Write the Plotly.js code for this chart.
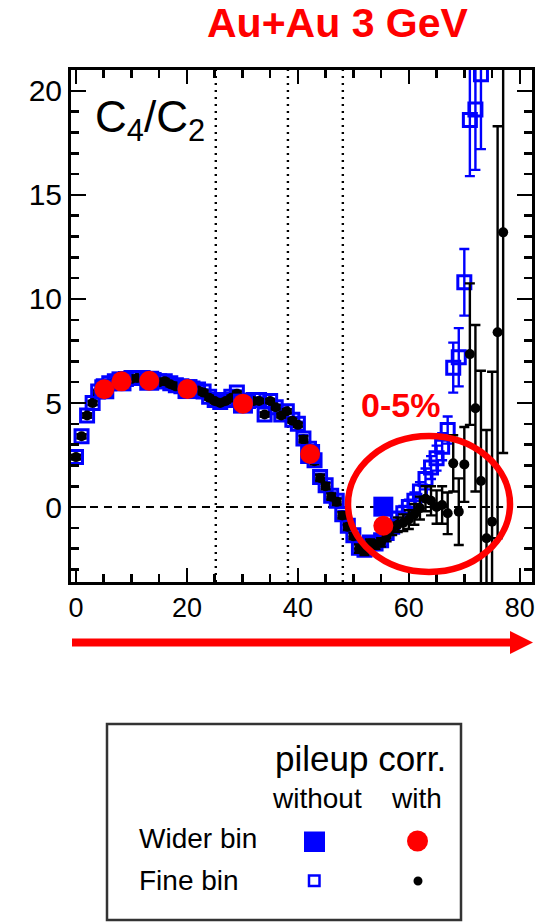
<!DOCTYPE html>
<html>
<head>
<meta charset="utf-8">
<script src="https://cdn.plot.ly/plotly-3.0.1.min.js"></script>
<style>html,body{margin:0;padding:0;background:#fff;}#chart{width:546px;height:922px;}</style>
</head>
<body>
<div id="chart"></div>
<script>
// ---- data ----
const fineX = [0,1,2,3,4,5,6,7,8,9,10,11,12,13,14,15,16,17,18,19,20,21,22,23,24,25,26,27,28,29,30,31,32,33,34,35,36,37,38,39,40,41,42,43,44,45,46,47,48,49,50,51,52,53,54,55,56,57,58,59,60,61,62,63,64,65,66,67,68,69,70,71,72,73,74,75,76,77];
const fineWith = [2.4,3.4,4.4,5.0,5.5,5.75,5.9,6.0,6.05,6.1,6.15,6.2,6.15,6.1,6.05,6.0,6.05,5.9,5.8,5.75,5.7,5.65,5.6,5.5,5.25,5.1,5.0,5.1,5.25,5.45,5.0,5.05,5.1,5.1,4.45,5.1,4.8,4.4,4.6,4.15,3.95,3.25,2.7,2.2,1.4,1.0,0.5,0.25,-0.4,-0.95,-1.4,-2.0,-2.1,-1.75,-1.8,-1.7,-1.4,-1.05,-0.85,-0.75,-0.6,-0.35,-0.05,0.4,0.3,0.0,0.1,-0.3,2.1,-0.22,2.05,7.35,4.75,1.25,-1.5,-0.7,8.4,13.2];
const fineWithErr = [0.1,0.1,0.1,0.1,0.1,0.1,0.1,0.1,0.1,0.1,0.1,0.1,0.1,0.1,0.1,0.1,0.1,0.1,0.1,0.1,0.1,0.1,0.1,0.1,0.1,0.1,0.1,0.1,0.1,0.1,0.1,0.1,0.1,0.1,0.1,0.1,0.1,0.1,0.1,0.1,0.1,0.15,0.15,0.15,0.15,0.15,0.15,0.15,0.15,0.15,0.15,0.2,0.2,0.2,0.2,0.2,0.25,0.3,0.35,0.4,0.45,0.5,0.55,0.6,0.7,0.8,0.9,1.0,1.35,1.6,1.8,3.4,4.0,5.3,5.2,7.2,9.9,10.6];
const fineWithoutX = [0,1,2,3,4,5,6,7,8,9,10,11,12,13,14,15,16,17,18,19,20,21,22,23,24,25,26,27,28,29,30,31,32,33,34,35,36,37,38,39,40,41,42,43,44,45,46,47,48,49,50,51,52,53,54,55,56,57,58,59,60,61,62,63,64,65,66,67,68,69,70,71,72,73];
const fineWithout = [2.4,3.4,4.4,5.0,5.55,5.8,5.95,6.05,6.1,6.15,6.2,6.2,6.2,6.15,6.1,6.05,6.05,5.95,5.85,5.8,5.75,5.7,5.65,5.55,5.3,5.15,5.05,5.15,5.3,5.5,5.05,5.1,5.15,5.15,4.45,5.1,4.8,4.45,4.6,4.2,4.0,3.3,2.8,2.25,1.45,1.05,0.55,0.3,-0.35,-0.9,-1.35,-1.95,-2.05,-1.7,-1.75,-1.6,-1.25,-0.95,-0.55,-0.3,0.0,0.3,0.75,1.35,1.9,2.35,2.9,3.7,6.7,7.2,10.8,18.6,19.1,20.8];
const fineWithoutErr = [0.1,0.1,0.1,0.1,0.1,0.1,0.1,0.1,0.1,0.1,0.1,0.1,0.1,0.1,0.1,0.1,0.1,0.1,0.1,0.1,0.1,0.1,0.1,0.1,0.1,0.1,0.1,0.1,0.1,0.1,0.1,0.1,0.1,0.1,0.1,0.1,0.1,0.1,0.1,0.1,0.1,0.15,0.15,0.15,0.15,0.15,0.15,0.15,0.15,0.15,0.15,0.2,0.2,0.2,0.2,0.2,0.25,0.3,0.3,0.35,0.35,0.4,0.45,0.5,0.55,0.6,0.65,0.65,1.2,1.4,1.6,2.7,2.9,3.6];
const wideX = [5.1,8.2,13.2,20.1,30.1,42.2,55.4];
const wideWith = [5.66,6.04,6.07,5.67,4.97,2.55,-0.9];
const wideWithout = [5.66,6.04,6.07,5.67,4.97,2.55,0.02];
const boundaries = [25.2,38.2,48.1];
const xTicks = [0,20,40,60,80];
const yTicks = [0,5,10,15,20];

// ---- helpers: pixel -> paper (margins are zero) ----
const W = 546, H = 922;
const px = x => x / W;
const py = y => 1 - y / H;
const RED = 'rgb(255,0,0)', BLUE = 'rgb(0,0,255)';
const FONT = 'Liberation Sans, Arial, Helvetica, sans-serif';

const traces = [
  {x: fineWithoutX, y: fineWithout, type: 'scatter', mode: 'markers',
   marker: {symbol: 'square-open', size: 13, color: BLUE, line: {width: 3, color: BLUE}},
   error_y: {type: 'data', array: fineWithoutErr, visible: true, color: BLUE, thickness: 2.4, width: 5},
   cliponaxis: true},
  {x: fineX, y: fineWith, type: 'scatter', mode: 'markers',
   marker: {symbol: 'circle', size: 10, color: 'black'},
   error_y: {type: 'data', array: fineWithErr, visible: true, color: 'black', thickness: 2.4, width: 5},
   cliponaxis: true},
  {x: wideX, y: wideWithout, type: 'scatter', mode: 'markers',
   marker: {symbol: 'square', size: 20, color: BLUE}},
  {x: wideX, y: wideWith, type: 'scatter', mode: 'markers',
   marker: {symbol: 'circle', size: 20, color: RED}}
];

const shapes = [];
boundaries.forEach(b => shapes.push({type: 'line', xref: 'x', yref: 'y domain', x0: b, x1: b, y0: 0, y1: 1,
  line: {color: 'black', width: 2.4, dash: '2px,5px'}, layer: 'below'}));
shapes.push({type: 'line', xref: 'x', yref: 'y', x0: 0, x1: 77, y0: 0, y1: 0,
  line: {color: 'black', width: 2, dash: '8px,6px'}, layer: 'below'});
// ellipse marking 0-5%
shapes.push({type: 'circle', xref: 'paper', yref: 'paper', x0: px(348), x1: px(510), y0: py(572), y1: py(436),
  line: {color: RED, width: 6.5}});
// arrow under the axis
shapes.push({type: 'line', xref: 'paper', yref: 'paper', x0: px(72), x1: px(512), y0: py(642.5), y1: py(642.5),
  line: {color: RED, width: 8}});
shapes.push({type: 'path', xref: 'paper', yref: 'paper',
  path: `M ${px(510)} ${py(631)} L ${px(533)} ${py(642.5)} L ${px(510)} ${py(654)} Z`,
  fillcolor: RED, line: {color: RED, width: 0}});
// legend box
shapes.push({type: 'rect', xref: 'paper', yref: 'paper', x0: px(107), x1: px(461), y0: py(920), y1: py(724),
  line: {color: '#333', width: 2.5}, fillcolor: 'rgba(0,0,0,0)'});
shapes.push({type: 'rect', xref: 'paper', yref: 'paper', x0: px(304), x1: px(325), y0: py(852), y1: py(831.5),
  line: {width: 0}, fillcolor: BLUE});
shapes.push({type: 'circle', xref: 'paper', yref: 'paper', x0: px(407), x1: px(428), y0: py(851.5), y1: py(830.5),
  line: {width: 0}, fillcolor: RED});
shapes.push({type: 'rect', xref: 'paper', yref: 'paper', x0: px(309), x1: px(319.5), y0: py(886), y1: py(875.5),
  line: {width: 2.5, color: BLUE}, fillcolor: 'rgba(0,0,0,0)'});
shapes.push({type: 'circle', xref: 'paper', yref: 'paper', x0: px(413.5), x1: px(422.5), y0: py(885.5), y1: py(876.5),
  line: {width: 0}, fillcolor: 'black'});

const ann = (text, x, y, size, opts = {}) => Object.assign({
  text, xref: 'paper', yref: 'paper', x: px(x), y: py(y), showarrow: false,
  xanchor: 'center', yanchor: 'middle', font: {family: FONT, size, color: 'black'}}, opts);

const annotations = [
  ann('<b>Au+Au 3 GeV</b>', 337.5, 23.5, 41, {font: {family: FONT, size: 41, color: RED}}),
  ann('C<sub>4</sub>/C<sub>2</sub>', 93, 120, 44, {xanchor: 'left'}),
  ann('<b>0-5%</b>', 400, 404.5, 34, {font: {family: FONT, size: 34, color: RED}}),
  ann('pileup corr.', 360, 758, 35),
  ann('without', 317, 798, 28),
  ann('with', 416, 798, 28),
  ann('Wider bin', 137, 838, 28, {xanchor: 'left'}),
  ann('Fine bin', 137, 880, 28, {xanchor: 'left'})
];

const layout = {
  width: W, height: H,
  margin: {l: 0, r: 0, t: 0, b: 0},
  paper_bgcolor: 'white', plot_bgcolor: 'white',
  showlegend: false,
  font: {family: FONT, color: 'black'},
  xaxis: {
    domain: [71 / W, 532 / W], range: [-0.9, 82.2], automargin: false,
    showgrid: false, zeroline: false, showline: true, linewidth: 3, linecolor: 'black', mirror: 'allticks',
    ticks: 'inside', ticklen: 14, tickwidth: 2.5, tickcolor: 'black',
    tickmode: 'array', tickvals: xTicks, ticktext: xTicks.map(String),
    tickfont: {family: FONT, size: 27, color: 'black'},
    minor: {dtick: 5, tick0: 0, ticks: 'inside', ticklen: 8, tickwidth: 2.5, tickcolor: 'black', showgrid: false}
  },
  yaxis: {
    domain: [1 - 582 / H, 1 - 70 / H], range: [-3.6, 21.0], automargin: false,
    showgrid: false, zeroline: false, showline: true, linewidth: 3, linecolor: 'black', mirror: 'allticks',
    ticks: 'inside', ticklen: 15, tickwidth: 2.5, tickcolor: 'black',
    tickmode: 'array', tickvals: yTicks, ticktext: yTicks.map(String),
    tickfont: {family: FONT, size: 30, color: 'black'},
    minor: {dtick: 1, tick0: 0, ticks: 'inside', ticklen: 8, tickwidth: 2.5, tickcolor: 'black', showgrid: false}
  },
  shapes, annotations
};

Plotly.newPlot('chart', traces, layout, {displayModeBar: false, staticPlot: true});
</script>
</body>
</html>
